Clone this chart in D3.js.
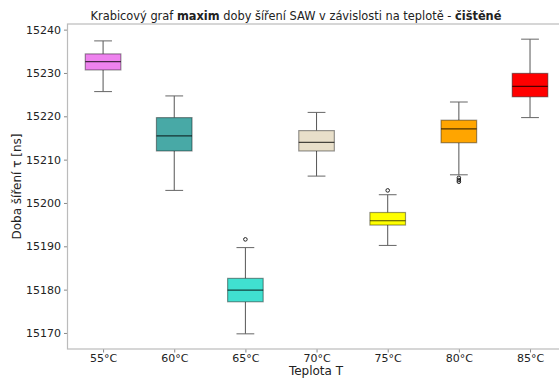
<!DOCTYPE html>
<html><head><meta charset="utf-8">
<script src="https://cdn.jsdelivr.net/npm/d3@7"></script>
<style>body{margin:0;background:#fff}svg{display:block;font-family:"DejaVu Sans",sans-serif}</style>
</head><body><svg id="c" width="559" height="378"></svg>
<script>
const categories = ["55°C","60°C","65°C","70°C","75°C","80°C","85°C"];
const whiskerHigh = [15237.4,15224.7,15189.7,15220.9,15201.9,15223.3,15237.8];
const q3          = [15234.4,15219.7,15182.6,15216.7,15197.8,15219.1,15229.9];
const medians     = [15232.6,15215.5,15179.9,15214.0,15195.9,15217.1,15226.9];
const q1          = [15230.7,15212.0,15177.2,15212.0,15194.9,15213.9,15224.5];
const whiskerLow  = [15225.7,15202.9,15169.8,15206.2,15190.2,15206.5,15219.7];
const outliers    = [[],[],[15191.6],[],[15202.9],[15205.8,15205.3,15204.9],[]];
const yTicks      = [15170,15180,15190,15200,15210,15220,15230,15240];
const palette     = ["#EE82EE","#48A9A6","#40E0D0","#E8DFCA","#FFFF00","#FFA500","#FF0000"];

const svg = d3.select("#c");
const L = 67.5, R = 565.6, T = 24, B = 349;
const x = d3.scalePoint().domain(categories).range([L, R]).padding(0.5);
const y = d3.scaleLinear().domain([15166.3, 15241.3]).range([B, T]);
const step = x.step();
const bw = step * 0.5, cw = bw * 0.5;

const data = categories.map((c,i)=>({c, hi:whiskerHigh[i], q3:q3[i], med:medians[i], q1:q1[i], lo:whiskerLow[i], out:outliers[i], col:palette[i]}));

const g = svg.append("g");
data.forEach(d=>{
  const cx = x(d.c);
  const gg = g.append("g");
  gg.append("line").attr("x1",cx).attr("x2",cx).attr("y1",y(d.hi)).attr("y2",y(d.q3)).attr("stroke","#555").attr("stroke-width",1);
  gg.append("line").attr("x1",cx).attr("x2",cx).attr("y1",y(d.q1)).attr("y2",y(d.lo)).attr("stroke","#555").attr("stroke-width",1);
  gg.append("line").attr("x1",cx-cw/2).attr("x2",cx+cw/2).attr("y1",y(d.hi)).attr("y2",y(d.hi)).attr("stroke","#666").attr("stroke-width",1);
  gg.append("line").attr("x1",cx-cw/2).attr("x2",cx+cw/2).attr("y1",y(d.lo)).attr("y2",y(d.lo)).attr("stroke","#666").attr("stroke-width",1);
  gg.append("rect").attr("x",cx-bw/2).attr("y",y(d.q3)).attr("width",bw).attr("height",y(d.q1)-y(d.q3))
    .attr("fill",d.col).attr("stroke","rgba(0,0,0,0.4)").attr("stroke-width",1.2);
  gg.append("line").attr("x1",cx-bw/2).attr("x2",cx+bw/2).attr("y1",y(d.med)).attr("y2",y(d.med)).attr("stroke","rgba(0,0,0,0.7)").attr("stroke-width",1.2);
  d.out.forEach(o=>{
    gg.append("circle").attr("cx",cx).attr("cy",y(o)).attr("r",1.8).attr("fill","none").attr("stroke","#222").attr("stroke-width",1);
  });
});

// axes
const yAxis = d3.axisLeft(y).tickValues(yTicks).tickSize(3.5).tickPadding(3).tickFormat(d3.format("d"));
const ya = svg.append("g").attr("transform",`translate(${L},0)`).call(yAxis);
const xAxis = d3.axisBottom(x).tickSize(3.5).tickPadding(1.5);
const xa = svg.append("g").attr("transform",`translate(0,${B})`).call(xAxis);
[ya,xa].forEach(a=>{
  a.select(".domain").remove();
  a.selectAll(".tick line").attr("stroke","#888");
  a.selectAll(".tick text").attr("fill","#222").style("font-size","11px").style("font-family","DejaVu Sans");
});
// spines
svg.append("rect").attr("x",L).attr("y",T).attr("width",R-L).attr("height",B-T).attr("fill","none").attr("stroke","#bbb").attr("stroke-width",1.2);

svg.append("text").attr("x",296).attr("y",20).attr("text-anchor","middle").attr("fill","#222").style("font-size","11.4px")
  .html('Krabicový graf <tspan font-weight="bold">maxim</tspan> doby šíření SAW v závislosti na teplotě - <tspan font-weight="bold">čištěné</tspan>');
svg.append("text").attr("x",316).attr("y",375).attr("text-anchor","middle").attr("fill","#222").style("font-size","12px").text("Teplota T");
svg.append("text").attr("transform",`translate(21,${(T+B)/2}) rotate(-90)`).attr("text-anchor","middle").attr("fill","#222").style("font-size","12px").text("Doba šíření τ [ns]");
</script></body></html>
